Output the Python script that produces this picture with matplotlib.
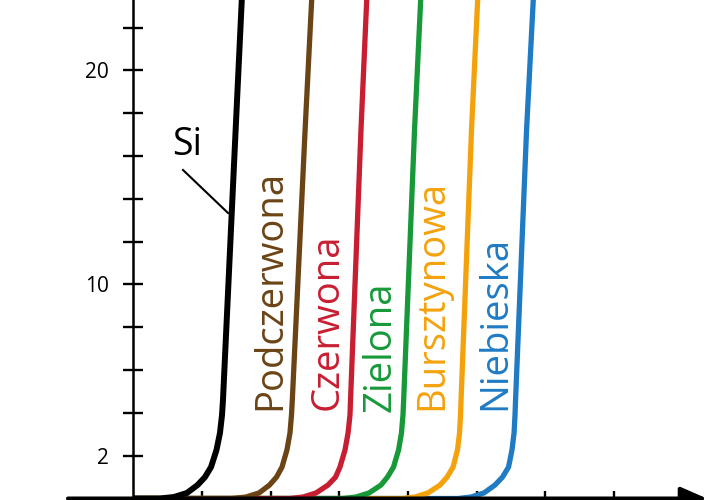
import matplotlib
matplotlib.use("Agg")
import matplotlib.pyplot as plt

plt.rcParams['font.family'] = ['Open Sans', 'DejaVu Sans']

# ---- data ----
# current levels [mA] shared by all curves (first point = start of flat part)
current_mA = [0, 0, 0.07, 0.26, 0.63, 1.0, 1.47, 2.27, 3.06, 3.9, 4.6, 17.2, 23.3, 24.0]

names = ['Si', 'Podczerwona', 'Czerwona', 'Zielona', 'Bursztynowa', 'Niebieska']
v_si          = [0, 0.194, 0.296, 0.391, 0.468, 0.522, 0.566, 0.606, 0.631, 0.646, 0.653, 0.745, 0.790, 0.795]
v_podczerwona = [0, 0.719, 0.821, 0.916, 0.992, 1.043, 1.083, 1.119, 1.141, 1.152, 1.158, 1.251, 1.299, 1.304]
v_czerwona    = [0, 1.141, 1.236, 1.331, 1.418, 1.473, 1.505, 1.542, 1.564, 1.578, 1.582, 1.658, 1.700, 1.705]
v_zielona     = [0, 1.527, 1.622, 1.717, 1.804, 1.851, 1.895, 1.932, 1.953, 1.964, 1.969, 2.048, 2.093, 2.098]
v_bursztynowa = [0, 1.957, 2.052, 2.146, 2.234, 2.285, 2.329, 2.361, 2.376, 2.383, 2.387, 2.463, 2.508, 2.513]
v_niebieska   = [0, 2.365, 2.460, 2.554, 2.634, 2.689, 2.733, 2.758, 2.773, 2.780, 2.784, 2.864, 2.913, 2.918]
voltages = [v_si, v_podczerwona, v_czerwona, v_zielona, v_bursztynowa, v_niebieska]

colors = ['#000000', '#6b4416', '#c81e32', '#17993a', '#f4a20c', '#1f7bc4']

ytick_values = [2, 4, 6, 8, 10, 12, 14, 16, 18, 20, 22]
ytick_labels = ['2', '', '', '', '10', '', '', '', '', '20', '']
xtick_values = [0.5, 1.0, 1.5, 2.0, 2.5, 3.0, 3.5]

# ---- figure ----
fig = plt.figure(figsize=(7.2, 5), dpi=100)
ax = fig.add_axes([0, 0, 1, 1])
ax.set_xlim(-0.971, 4.273)
ax.set_ylim(-0.070, 23.294)

# curves: drawn so that earlier ones lie on top
n = len(names)
for i in range(n - 1, -1, -1):
    ax.plot(voltages[i], current_mA, color=colors[i],
            lw=4.3 if i == 0 else 3.8, zorder=2 + (n - i) * 0.1,
            solid_joinstyle='round', solid_capstyle='butt')

# axes lines
for s in ['top', 'right']:
    ax.spines[s].set_visible(False)
ax.spines['left'].set_position(('data', 0))
ax.spines['left'].set_bounds(0, 23.3)
ax.spines['left'].set_linewidth(1.8)
ax.spines['left'].set_zorder(5)
ax.spines['bottom'].set_position(('data', 0))
ax.spines['bottom'].set_visible(False)

ax.annotate('', xy=(4.178, 0), xytext=(-0.476, 0),
            arrowprops=dict(arrowstyle='-|>,head_length=0.8,head_width=0.35',
                            mutation_scale=20, lw=2.9, color='k',
                            shrinkA=0, shrinkB=0),
            zorder=6)

ax.set_yticks(ytick_values, labels=ytick_labels)
ax.set_xticks(xtick_values)
ax.tick_params(axis='y', direction='inout', length=13.7, width=1.7, pad=10.6,
               labelsize=15, colors='k')
ax.tick_params(axis='x', direction='in', length=5.5, width=1.7, labelbottom=False)

# labels
ax.text(0.283, 16.05, 'Si', fontsize=27, ha='left', va='baseline', color='k')
ax.plot([0.362, 0.690], [15.35, 13.34], color='k', lw=1.5, zorder=3)

label_pos = [(1.068, 4.14), (1.49, 4.14), (1.876, 4.05), (2.248, 4.14), (2.707, 4.14)]
for (x, y), name, c in zip(label_pos, names[1:], colors[1:]):
    ax.text(x, y, name, rotation=90, rotation_mode='anchor', ha='left',
            va='baseline', fontsize=27.5, color=c)

fig.savefig('out.png', dpi=100)
